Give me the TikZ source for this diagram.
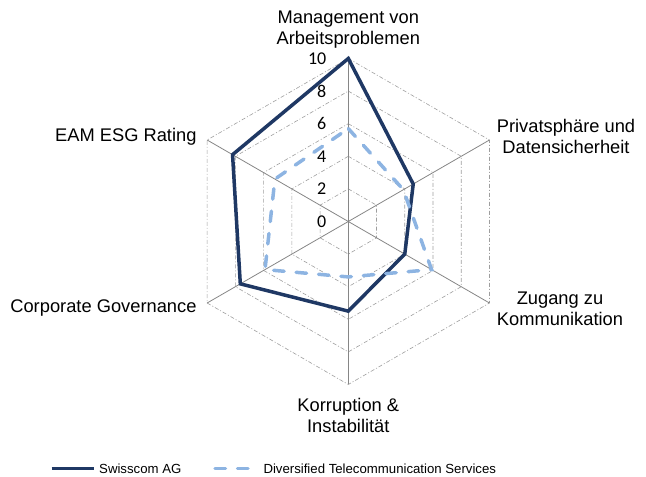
\documentclass[tikz,border=0pt]{standalone}
\usepackage{fontspec}
\setmainfont{Liberation Sans}
\newfontfamily\calibri{Carlito}
\usetikzlibrary{positioning}
\definecolor{swissblue}{RGB}{31,56,100}
\definecolor{sectorblue}{RGB}{141,180,226}
\definecolor{gridgray}{RGB}{134,134,134}

\begin{document}
\begin{tikzpicture}[x=1pt,y=1pt,
  every node/.style={inner sep=0pt,align=center,font=\fontsize{18.3}{20.5}\selectfont},
  tick/.style={anchor=east,font=\calibri\fontsize{18}{20}\selectfont},
  legend/.style={anchor=west,font=\fontsize{13.2}{15}\selectfont},
  spoke/.style={gridgray,line width=0.8pt},
  ring/.style={gridgray!80,line width=0.6pt,dash pattern=on 4pt off 2pt on 1pt off 2pt},
  swiss/.style={swissblue,line width=3.5pt,line join=miter},
  sector/.style={sectorblue,line width=3.5pt,line cap=round,dash pattern=on 10.5pt off 12pt}]
  \useasboundingbox (0,0) rectangle (646,477);
  \coordinate (c) at (348.3,255.5);

  % grid
  \foreach \k in {2,4,6,8,10}{
    \pgfmathsetmacro\r{16.3*\k}
    \draw[ring,shift={(c)}] (90:\r)--(30:\r)--(-30:\r)--(-90:\r)--(-150:\r)--(150:\r)--cycle;
  }
  \foreach \i/\a in {1/90,2/30,3/-30,4/-90,5/-150,6/150}{
    \path (c) ++(\a:163) coordinate (a\i);
    \draw[spoke] (c)--(a\i);
  }
  \foreach \k in {0,2,...,10}
    \node[tick] (t\k) at (326.5,{255.5+16.3*\k}) {\k};

  % axis labels
  \node (m) at (348.3,447.5) {Management von\\Arbeitsproblemen};
  \node (p) at (566,340.3) {Privatsphäre und\\Datensicherheit};
  \node (z) at (560,168.2) {Zugang zu\\Kommunikation};
  \node (k) at (348.3,61.5) {Korruption \&\\Instabilität};
  \node[anchor=east] (g) at (196.7,168.7) {Corporate Governance};
  \node[anchor=east] (e) at (196.7,340.3) {EAM ESG Rating};

  % series
  \foreach \i/\a/\v in {1/90/10,2/30/4.6,3/-30/4.0,4/-90/5.5,5/-150/7.65,6/150/8.2}
    \path (c) ++(\a:{16.3*\v}) coordinate (s\i);
  \foreach \i/\a/\v in {1/90/5.7,2/30/3.9,3/-30/5.9,4/-90/3.4,5/-150/5.9,6/150/5.2}
    \path (c) ++(\a:{16.3*\v}) coordinate (d\i);
  \draw[swiss] (s1)--(s2)--(s3)--(s4)--(s5)--(s6)--cycle;
  \draw[sector] (d1)--(d2)--(d3)--(d4)--(d5)--(d6)--cycle;

  % legend
  \coordinate (l1a) at (51.7,8.7);
  \coordinate (l1b) at (94.3,8.7);
  \coordinate (l2a) at (215,8.7);
  \coordinate (l2b) at (257.5,8.7);
  \draw[swiss] (l1a)--(l1b);
  \draw[sector] (l2a)--(l2b);
  \node[legend,right=4.7pt of l1b] (sw) {Swisscom AG};
  \node[legend,right=5.8pt of l2b] (dt) {Diversified Telecommunication Services};
\end{tikzpicture}
\end{document}
